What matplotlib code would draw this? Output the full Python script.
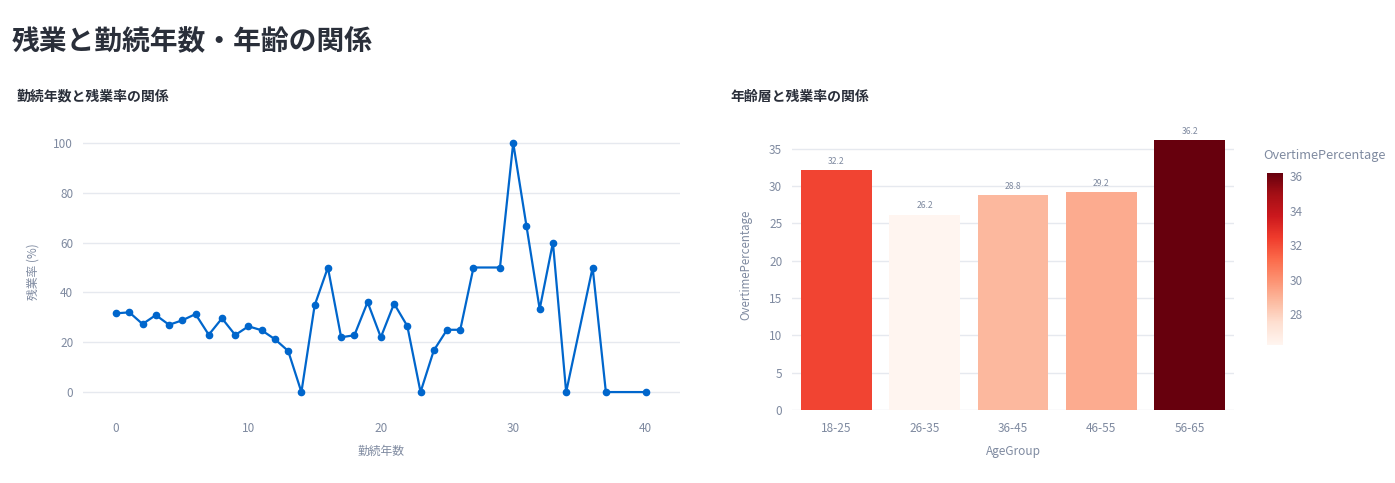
import numpy as np
import matplotlib.pyplot as plt
from matplotlib import cm
from matplotlib.colors import Normalize

plt.rcParams['font.family'] = ['Noto Sans CJK JP', 'DejaVu Sans']

# 勤続年数と残業率
years = [0, 1, 2, 3, 4, 5, 6, 7, 8, 9, 10, 11, 12, 13, 14, 15, 16, 17, 18, 19,
         20, 21, 22, 23, 24, 25, 26, 27, 29, 30, 31, 32, 33, 34, 36, 37, 40]
overtime_rate = [31.6, 32.0, 27.3, 30.9, 27.0, 28.8, 31.3, 23.0, 29.6, 22.9,
                 26.4, 24.8, 21.2, 16.5, 0.0, 34.8, 50.0, 22.0, 22.8, 36.1,
                 22.0, 35.5, 26.5, 0.0, 16.7, 25.0, 25.0, 50.0, 50.0, 100.0,
                 66.7, 33.3, 60.0, 0.0, 50.0, 0.0, 0.0]

# 年齢層と残業率
age_groups = ['18-25', '26-35', '36-45', '46-55', '56-65']
age_overtime = [32.2, 26.2, 28.8, 29.2, 36.2]

W, H = 1395, 483
tick_color = '#7f8aa0'
grid_color = '#e6e9ef'


def fx(px):
    return px / W


def fy(py):
    return 1 - py / H


fig = plt.figure(figsize=(W / 100, H / 100), dpi=100)

fig.text(fx(12), fy(42), '残業と勤続年数・年齢の関係', fontsize=20, fontweight='bold',
         color='#2a2f3a', ha='left', va='center')
fig.text(fx(17), fy(97), '勤続年数と残業率の関係', fontsize=10, fontweight='bold',
         color='#2a2f3a', ha='left', va='center')
fig.text(fx(730), fy(97), '年齢層と残業率の関係', fontsize=10, fontweight='bold',
         color='#2a2f3a', ha='left', va='center')

# left: line chart
ax1 = fig.add_axes([fx(83), fy(410), fx(680 - 83), (410 - 125) / H])
ax1.plot(years, overtime_rate, color='#0066cc', lw=1.6, marker='o', ms=4.5, zorder=3)
ax1.set_xlim(-2.5, 42.6)
ax1.set_ylim(-7.2, 107.2)
ax1.set_xticks([0, 10, 20, 30, 40])
ax1.set_yticks([0, 20, 40, 60, 80, 100])

# right: bar chart colored by value
norm = Normalize(vmin=min(age_overtime), vmax=max(age_overtime))
colors = [cm.Reds(norm(v)) for v in age_overtime]
ax2 = fig.add_axes([fx(792), fy(410), fx(1234 - 792), (410 - 125) / H])
xpos = np.arange(len(age_groups))
bars = ax2.bar(xpos, age_overtime, width=0.8, color=colors, zorder=3)
for b, v in zip(bars, age_overtime):
    ax2.annotate(f'{v:.1f}', (b.get_x() + b.get_width() / 2, v), xytext=(0, 3),
                 textcoords='offset points', ha='center', va='bottom',
                 fontsize=6.2, color=tick_color)
ax2.set_xlim(-0.5, 4.5)
ax2.set_ylim(0, 38.2)
ax2.set_xticks(xpos)
ax2.set_xticklabels(age_groups)
ax2.set_yticks([0, 5, 10, 15, 20, 25, 30, 35])

for ax in (ax1, ax2):
    for s in ax.spines.values():
        s.set_visible(False)
    ax.grid(axis='y', color=grid_color, lw=1, zorder=0)
    ax.set_axisbelow(True)
    ax.tick_params(axis='both', length=0, labelsize=8.5, labelcolor=tick_color)
    ax.tick_params(axis='x', pad=9)
    ax.tick_params(axis='y', pad=7)

# axis titles
fig.text(fx(33), fy(272), '残業率 (%)', rotation=90, fontsize=8.5, color=tick_color,
         ha='center', va='center')
fig.text(fx(381), fy(451), '勤続年数', fontsize=8.5, color=tick_color,
         ha='center', va='center')
fig.text(fx(746), fy(265), 'OvertimePercentage', rotation=90, fontsize=8.3,
         color=tick_color, ha='center', va='center')
fig.text(fx(1013), fy(451), 'AgeGroup', fontsize=8.5, color=tick_color,
         ha='center', va='center')

# colorbar
cax = fig.add_axes([fx(1267), fy(345), fx(16), 172 / H])
sm = cm.ScalarMappable(norm=norm, cmap='Reds')
cb = fig.colorbar(sm, cax=cax, ticks=[28, 30, 32, 34, 36])
cb.outline.set_visible(False)
cb.ax.tick_params(length=0, labelsize=8.5, labelcolor=tick_color, pad=5)
fig.text(fx(1263), fy(156), 'OvertimePercentage', fontsize=9.2, color=tick_color,
         ha='left', va='center')

fig.savefig('out.png', dpi=100)
